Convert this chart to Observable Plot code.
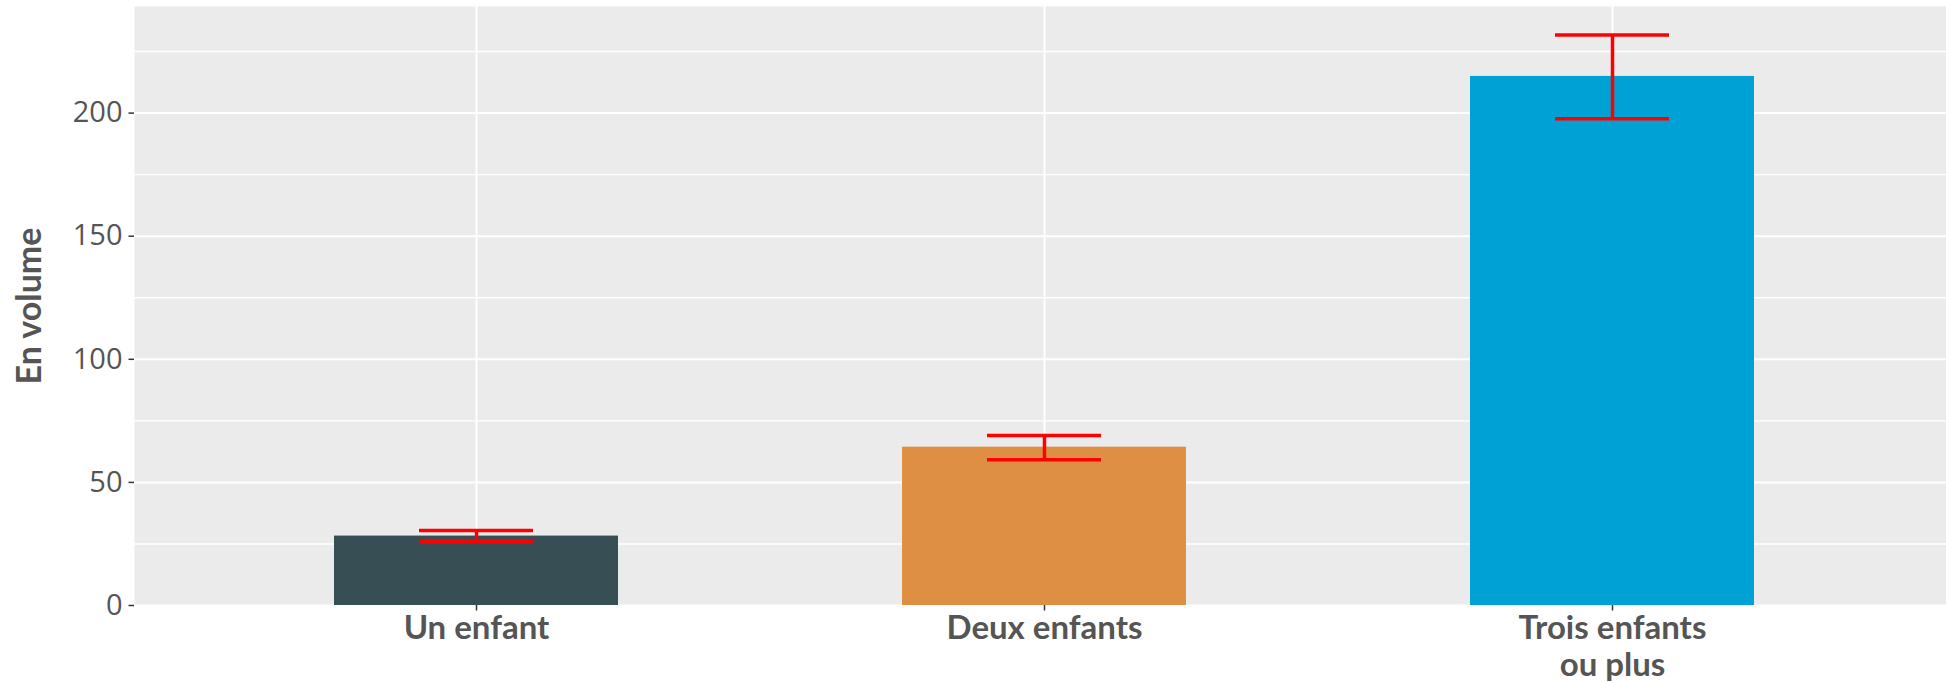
<!DOCTYPE html>
<html>
<head>
<meta charset="utf-8">
<script src="https://cdn.jsdelivr.net/npm/d3@7"></script>
<script src="https://cdn.jsdelivr.net/npm/@observablehq/plot@0.6"></script>
<style>
  html, body { margin: 0; padding: 0; background: #ffffff; }
  #chart svg { display: block; }
</style>
</head>
<body>
<div id="chart"></div>
<script>
// ---- data ----
const categories = ["Un enfant", "Deux enfants", "Trois enfants\nou plus"];
const values = [28.2, 64.3, 214.9];
const lower = [26.0, 59.2, 197.7];
const upper = [30.5, 69.1, 231.7];
const barColors = ["#374E55", "#DF8F44", "#00A1D5"];
const majorTicks = [0, 50, 100, 150, 200];
const minorTicks = [25, 75, 125, 175, 225];
const yTitle = "En volume";

const data = categories.map((c, i) => ({cat: c, value: values[i], lo: lower[i], hi: upper[i]}));

const chart = Plot.plot({
  width: 1946,
  height: 682,
  marginLeft: 134,
  marginRight: 0,
  marginTop: 6,
  marginBottom: 77,
  style: {background: "#ffffff", fontFamily: "'Open Sans', sans-serif", overflow: "visible"},
  x: {type: "band", domain: categories, range: [134, 1953], paddingInner: 0.5, paddingOuter: 0.35, label: null},
  y: {domain: [0, 243.3], label: null},
  color: {domain: categories, range: barColors},
  marks: [
    Plot.frame({fill: "#EBEBEB", stroke: null}),
    Plot.ruleY(minorTicks, {stroke: "#ffffff", strokeWidth: 1.4}),
    Plot.ruleY(majorTicks, {stroke: "#ffffff", strokeWidth: 2}),
    Plot.ruleX(categories, {x: d => d, stroke: "#ffffff", strokeWidth: 2}),
    Plot.barY(data, {x: "cat", y: "value", fill: "cat"}),
    Plot.ruleX(data, {x: "cat", y1: "lo", y2: "hi", stroke: "#FF0000", strokeWidth: 3.5}),
    Plot.tickY(data, {x: "cat", y: "lo", stroke: "#FF0000", strokeWidth: 3.5, insetLeft: 85, insetRight: 85}),
    Plot.tickY(data, {x: "cat", y: "hi", stroke: "#FF0000", strokeWidth: 3.5, insetLeft: 85, insetRight: 85}),
    // y axis: ticks only, then labels only
    Plot.axisY({ticks: majorTicks, tickSize: 5.5, tickFormat: () => "", color: "#333333", strokeWidth: 1.5, label: null}),
    Plot.axisY({ticks: majorTicks, tickSize: 0, tickPadding: 12, fontSize: 29, color: "#555555", fontFamily: "'Open Sans', sans-serif", label: null}),
    // x axis: ticks only, then labels only
    Plot.axisX({tickSize: 5.5, tickFormat: () => "", color: "#333333", strokeWidth: 1.5, label: null}),
    Plot.axisX({tickSize: 0, tickPadding: 7, fontSize: 33, fontWeight: "bold", lineHeight: 1.12, color: "#555555", fontFamily: "Lato, sans-serif", label: null}),
    Plot.text([yTitle], {frameAnchor: "left", textAnchor: "middle", text: d => d, rotate: -90, dx: -104, fontSize: 34, fontWeight: "bold", fill: "#555555", fontFamily: "Lato, sans-serif"})
  ]
});
document.getElementById("chart").appendChild(chart);
</script>
</body>
</html>
